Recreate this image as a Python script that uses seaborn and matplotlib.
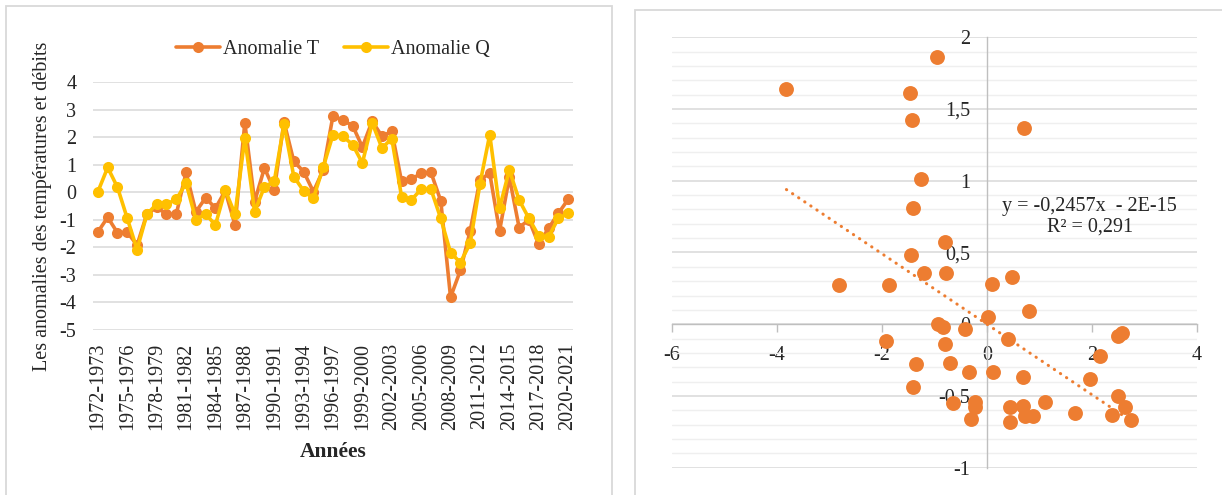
import numpy as np
import pandas as pd
import seaborn as sns
import matplotlib.pyplot as plt
from matplotlib.patches import Rectangle
from matplotlib.ticker import MultipleLocator

# hydrological years 1972-1973 ... 2020-2021
annees = [f"{y}-{y + 1}" for y in range(1972, 2021)]

anomalie_t = [-1.44, -0.91, -1.47, -1.45, -1.92, -0.79, -0.55, -0.79, -0.80, 0.72,
              -0.71, -0.20, -0.58, 0.05, -1.19, 2.52, -0.34, 0.88, 0.08, 2.55,
              1.12, 0.75, 0.02, 0.81, 2.78, 2.61, 2.42, 1.64, 2.58, 2.03,
              2.21, 0.39, 0.47, 0.69, 0.72, -0.31, -3.81, -2.84, -1.41, 0.45,
              0.69, -1.41, 0.55, -1.28, -1.00, -1.89, -1.31, -0.77, -0.26]
anomalie_q = [0.02, 0.90, 0.18, -0.95, -2.08, -0.80, -0.43, -0.43, -0.26, 0.33,
              -0.99, -0.79, -1.19, 0.08, -0.80, 1.97, -0.71, 0.20, 0.39, 2.46,
              0.57, 0.05, -0.22, 0.91, 2.09, 2.03, 1.73, 1.06, 2.52, 1.60,
              1.95, -0.16, -0.28, 0.11, 0.11, -0.95, -2.19, -2.55, -1.86, 0.30,
              2.09, -0.58, 0.81, -0.28, -0.95, -1.58, -1.62, -0.95, -0.77]

left_yticks = [-5, -4, -3, -2, -1, 0, 1, 2, 3, 4]
left_ylabels = ["-5", "-4", "-3", "-2", "-1", "0", "1", "2", "3", "4"]

scatter_x = [-3.82, -0.95, -1.46, -1.43, -1.25, -1.41, 0.70, -0.79, -1.44, -1.19,
             -0.78, 0.10, 0.48, 0.81, 0.02, -0.93, -0.84, -0.41, 0.40, -0.79,
             2.50, 2.57, 2.15, -1.35, -0.71, -0.35, 0.12, 0.68, 1.97, -1.41,
             -0.65, -0.23, -0.23, -0.30, 0.43, 0.43, 0.68, 0.72, 0.87, 1.10,
             1.67, 2.50, 2.39, 2.63, 2.74, -2.82, -1.87, -1.93]
scatter_y = [1.64, 1.86, 1.61, 1.42, 1.01, 0.81, 1.37, 0.57, 0.48, 0.36,
             0.36, 0.28, 0.33, 0.09, 0.05, 0.00, -0.02, -0.03, -0.10, -0.14,
             -0.08, -0.06, -0.22, -0.28, -0.27, -0.33, -0.33, -0.37, -0.38, -0.44,
             -0.55, -0.54, -0.58, -0.66, -0.58, -0.68, -0.57, -0.64, -0.64, -0.54,
             -0.62, -0.50, -0.63, -0.58, -0.67, 0.27, 0.27, -0.12]

trend_slope = -0.2457
trend_intercept = 0.0
trend_label = "y = -0,2457x  - 2E-15\nR² = 0,291"

right_xticks = [-6, -4, -2, 0, 2, 4]
right_xlabels = ["-6", "-4", "-2", "0", "2", "4"]
right_yticks = [-1, -0.5, 0, 0.5, 1, 1.5, 2]
right_ylabels = ["-1", "-0,5", "0", "0,5", "1", "1,5", "2"]

ORANGE = "#ED7D31"
YELLOW = "#FFC000"
GRID = "#d9d9d9"

sns.set_theme(style="white")
plt.rcParams["font.family"] = ["Liberation Serif", "DejaVu Serif"]
FS = 14.5

fig = plt.figure(figsize=(12.22, 4.95), dpi=100)

# panel frames
fig.patches.append(Rectangle((6 / 1222, -0.1), 606 / 1222, 0.1 + 1 - 6 / 495,
                             transform=fig.transFigure, fill=False,
                             edgecolor=GRID, lw=1.3))
fig.patches.append(Rectangle((635 / 1222, -0.1), 1.0, 0.1 + 1 - 10 / 495,
                             transform=fig.transFigure, fill=False,
                             edgecolor=GRID, lw=1.3))

# ---- left: anomalies time series
ax1 = fig.add_axes([0.0761, 0.3333, 0.3928, 0.5010])
df = pd.DataFrame({"idx": np.arange(len(annees)), "T": anomalie_t, "Q": anomalie_q})
sns.lineplot(data=df, x="idx", y="T", ax=ax1, color=ORANGE, lw=2.6, marker="o",
             markersize=8, markeredgewidth=0, label="Anomalie T")
sns.lineplot(data=df, x="idx", y="Q", ax=ax1, color=YELLOW, lw=2.6, marker="o",
             markersize=8, markeredgewidth=0, label="Anomalie Q")
ax1.set_xlim(-0.5, len(annees) - 0.5)
ax1.set_ylim(-5, 4)
ax1.set_yticks(left_yticks)
ax1.set_yticklabels(left_ylabels, fontsize=FS)
ax1.set_xticks(range(0, len(annees), 3))
ax1.set_xticklabels(annees[::3], fontsize=FS, rotation=90)
ax1.tick_params(axis="x", length=0, pad=9)
ax1.tick_params(axis="y", length=0, pad=12)
ax1.grid(axis="y", color=GRID, lw=1.1)
ax1.set_axisbelow(True)
for s in ax1.spines.values():
    s.set_visible(False)
ax1.set_ylabel("Les anomalies des températures et débits", fontsize=FS)
ax1.yaxis.set_label_coords(-0.085, 0.5)
ax1.set_xlabel("Années", fontsize=15.5, fontweight="bold")
ax1.xaxis.set_label_coords(0.5, -0.45)
ax1.legend(loc="center", bbox_to_anchor=(0.5, 1.13), ncol=2, frameon=False,
           fontsize=FS, handlelength=2.2, handletextpad=0.15, columnspacing=1.2)

# ---- right: scatter with linear trend
ax2 = fig.add_axes([0.5499, 0.0552, 0.4296, 0.8695])
ax2.spines["top"].set_visible(False)
ax2.spines["right"].set_visible(False)
ax2.spines["left"].set_position(("data", 0))
ax2.spines["bottom"].set_position(("data", 0))
for s in ("left", "bottom"):
    ax2.spines[s].set_color("#bfbfbf")
    ax2.spines[s].set_linewidth(1.0)
    ax2.spines[s].set_zorder(1)

sns.scatterplot(x=scatter_x, y=scatter_y, ax=ax2, color=ORANGE, s=115,
                linewidth=0, zorder=3)
tx = np.array([min(scatter_x), max(scatter_x)])
ax2.plot(tx, trend_slope * tx + trend_intercept, color=ORANGE, lw=2.2,
         linestyle=(0, (0.1, 2.3)), dash_capstyle="round", zorder=2)
ax2.set_xlim(-6, 4)
ax2.set_ylim(-1, 2)
ax2.set_xticks(right_xticks)
ax2.set_xticklabels(right_xlabels, fontsize=FS)
ax2.set_yticks(right_yticks)
ax2.set_yticklabels(right_ylabels, fontsize=FS)
ax2.yaxis.set_minor_locator(MultipleLocator(0.1))
ax2.grid(axis="y", which="major", color=GRID, lw=1.1)
ax2.grid(axis="y", which="minor", color="#efefef", lw=1.0)
ax2.grid(axis="x", visible=False)
ax2.set_axisbelow(True)
ax2.tick_params(axis="x", which="major", length=6, width=1, color="#bfbfbf",
                direction="out", pad=10, bottom=True)
ax2.tick_params(axis="y", which="both", length=0, pad=12)
ax2.text(1.96, 0.75, trend_label, ha="center", va="center", fontsize=FS,
         linespacing=1.1, zorder=4)

fig.savefig("out.png", dpi=100)
